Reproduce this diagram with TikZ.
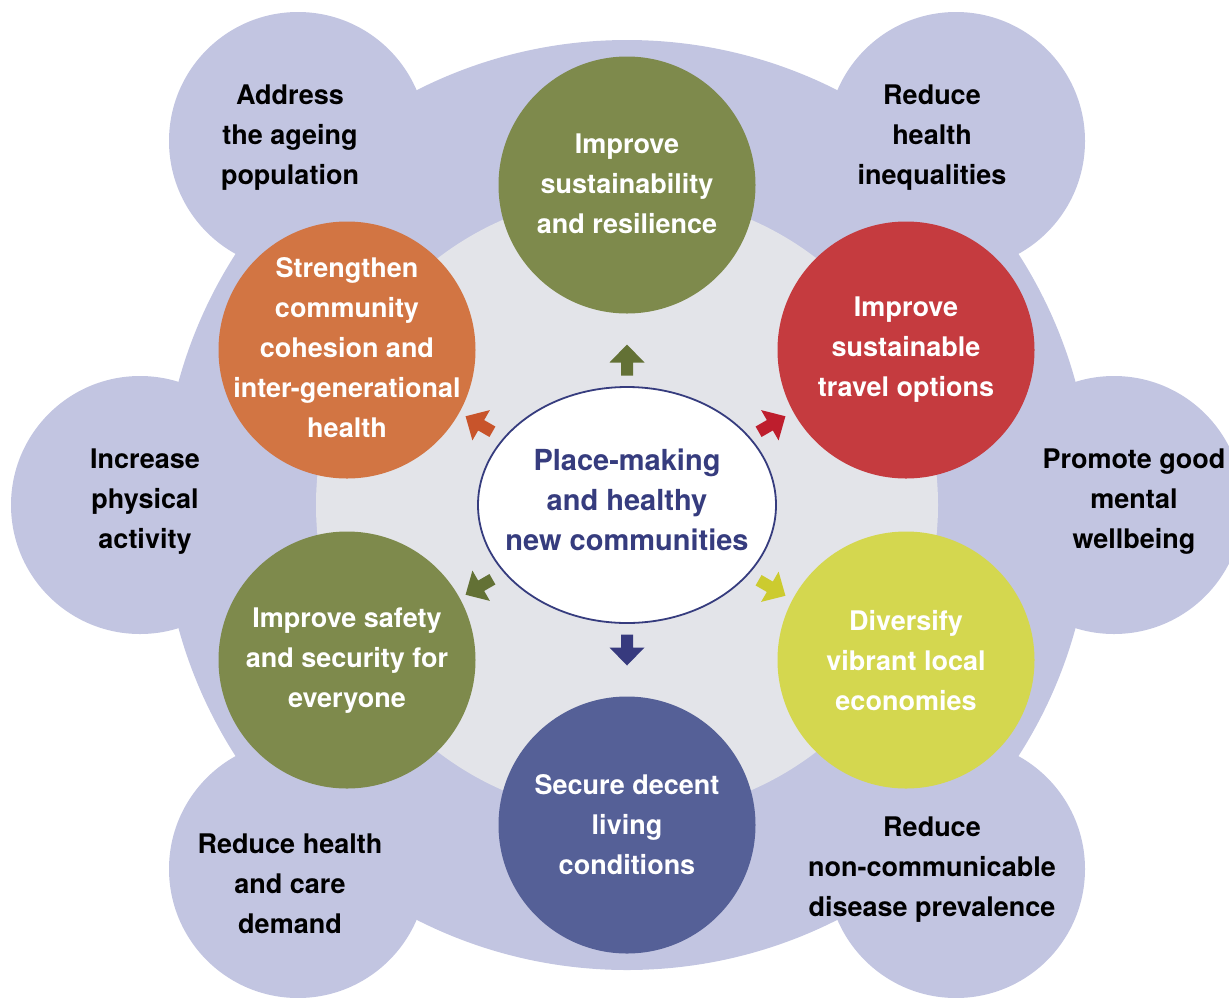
\documentclass[tikz,border=0pt]{standalone}
\usepackage{fontspec}
\setmainfont{TeX Gyre Heros}
\definecolor{lav}{HTML}{C2C5E1}
\definecolor{innergray}{HTML}{E3E4E9}
\definecolor{olive}{HTML}{7E8A4C}
\definecolor{goalred}{HTML}{C53B3F}
\definecolor{goalorange}{HTML}{D27543}
\definecolor{goalyellow}{HTML}{D4D74F}
\definecolor{goalblue}{HTML}{556097}
\definecolor{navy}{HTML}{363C7E}
\definecolor{arrgreen}{HTML}{637135}
\definecolor{arrorange}{HTML}{C8542B}
\definecolor{arrred}{HTML}{BE1E2D}
\definecolor{arryellow}{HTML}{CCCB2F}
\definecolor{arrblue}{HTML}{373A7E}
\tikzset{
  blob/.style={circle, fill=lav, minimum size=258pt, inner sep=0pt},
  goal/.style={circle, minimum size=257pt, inner sep=0pt},
  goaltext/.style={inner sep=0pt, text=white, align=center,
    font=\fontsize{27}{40}\selectfont\bfseries},
  outtext/.style={inner sep=0pt, text=black, align=center,
    font=\fontsize{27}{40}\selectfont\bfseries},
  blockarrow/.pic={\fill (-15.5,-6) -- (-2.5,-6) -- (-2.5,-17.5) -- (15.5,0)
     -- (-2.5,17.5) -- (-2.5,6) -- (-15.5,6) -- cycle;}
}
\begin{document}
\begin{tikzpicture}[x=1pt,y=-1pt]
\useasboundingbox (0,0) rectangle (1229,997);
\clip (0,0) rectangle (1229,997);
% outer lavender shape
\node[circle, fill=lav, minimum size=930pt, inner sep=0pt] (big) at (627,505) {};
\node[blob] (btl) at (298,141) {};
\node[blob] (btr) at (956,141) {};
\node[blob] (bl) at (140,505) {};
\node[blob] (br) at (1114,505) {};
\node[blob] (bbl) at (298,869) {};
\node[blob] (bbr) at (956,869) {};
% inner gray disc
\node[circle, fill=innergray, minimum size=622pt, inner sep=0pt] (inner) at (627,505) {};
% outer texts
\node[outtext] (ttl) at (290,138) {Address\\the ageing\\population};
\node[outtext] (ttr) at (932,138) {Reduce\\health\\inequalities};
\node[outtext] (tl) at (145,502) {Increase\\physical\\activity};
\node[outtext] (tr) at (1134,502) {Promote good\\mental\\wellbeing};
\node[outtext] (tbl) at (290,884) {Reduce health\\and care\\demand};
\node[outtext] (tbr) at (932,870) {Reduce\\non-communicable\\disease prevalence};
% goal circles
\node[goal, fill=olive] (gtop) at (627,185) {};
\node[goal, fill=goalorange] (gtl) at (347,350) {};
\node[goal, fill=goalred] (gtr) at (906,350) {};
\node[goal, fill=olive] (gbl) at (347,660) {};
\node[goal, fill=goalyellow] (gbr) at (906,660) {};
\node[goal, fill=goalblue] (gbot) at (627,825) {};
\node[goaltext] (xtop) at (627,184) {Improve\\sustainability\\and resilience};
\node[goaltext] (xtl) at (347,348) {Strengthen\\community\\cohesion and\\inter-generational\\health};
\node[goaltext] (xtr) at (906,350) {Improve\\sustainable\\travel options};
\node[goaltext] (xbl) at (347,661) {Improve safety\\and security for\\everyone};
\node[goaltext] (xbr) at (906,661) {Diversify\\vibrant local\\economies};
\node[goaltext] (xbot) at (627,825) {Secure decent\\living\\conditions};
% centre ellipse
\draw[navy, line width=1.8pt, fill=white] (627,505) ellipse [x radius=149, y radius=118];
\node[inner sep=0pt, text=navy, align=center, font=\fontsize{29}{40}\selectfont\bfseries]
  (centre) at (627,500) {Place-making\\and healthy\\new communities};
% arrows
\pic[arrgreen, rotate=90] (aup) at (627,360) {blockarrow};
\pic[arrblue, rotate=-90] (adown) at (627,650) {blockarrow};
\pic[arrorange, rotate=150] (atl) at (479,424) {blockarrow};
\pic[arrred, rotate=30] (atr) at (772,424) {blockarrow};
\pic[arrgreen, rotate=-150] (abl) at (479,587) {blockarrow};
\pic[arryellow, rotate=-30] (abr) at (772,588) {blockarrow};
\end{tikzpicture}
\end{document}
